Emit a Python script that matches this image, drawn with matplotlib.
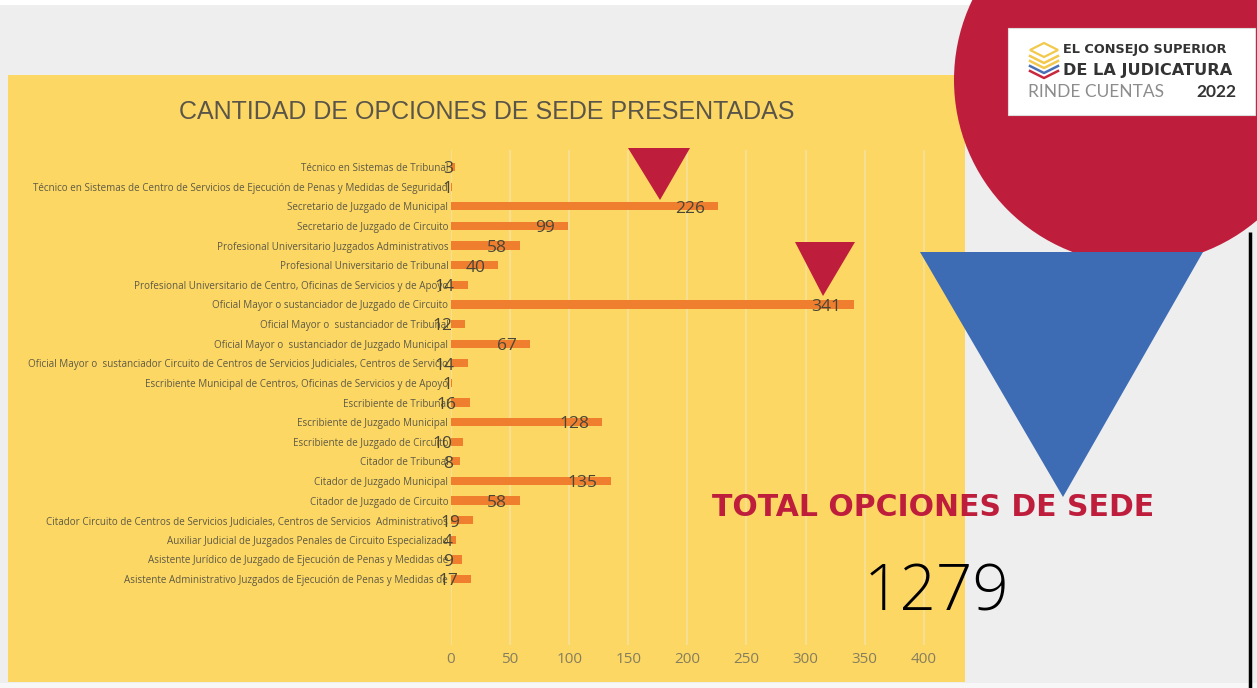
import matplotlib
matplotlib.use("Agg")
import matplotlib.pyplot as plt
import numpy as np
from matplotlib.patches import Rectangle, Circle, Polygon

# ---------------- data ----------------
categories = [
    "Técnico en Sistemas de Tribunal",
    "Técnico en Sistemas de Centro de Servicios de Ejecución de Penas y Medidas de Seguridad",
    "Secretario de Juzgado de Municipal",
    "Secretario de Juzgado de Circuito",
    "Profesional Universitario Juzgados Administrativos",
    "Profesional Universitario de Tribunal",
    "Profesional Universitario de Centro, Oficinas de Servicios y de Apoyo",
    "Oficial Mayor o sustanciador de Juzgado de Circuito",
    "Oficial Mayor o  sustanciador de Tribunal",
    "Oficial Mayor o  sustanciador de Juzgado Municipal",
    "Oficial Mayor o  sustanciador Circuito de Centros de Servicios Judiciales, Centros de Servicio",
    "Escribiente Municipal de Centros, Oficinas de Servicios y de Apoyo",
    "Escribiente de Tribunal",
    "Escribiente de Juzgado Municipal",
    "Escribiente de Juzgado de Circuito",
    "Citador de Tribunal",
    "Citador de Juzgado Municipal",
    "Citador de Juzgado de Circuito",
    "Citador Circuito de Centros de Servicios Judiciales, Centros de Servicios  Administrativos",
    "Auxiliar Judicial de Juzgados Penales de Circuito Especializado",
    "Asistente Jurídico de Juzgado de Ejecución de Penas y Medidas de",
    "Asistente Administrativo Juzgados de Ejecución de Penas y Medidas de",
]
values = [3, 1, 226, 99, 58, 40, 14, 341, 12, 67, 14, 1, 16, 128, 10, 8, 135, 58, 19, 4, 9, 17]
x_ticks = [0, 50, 100, 150, 200, 250, 300, 350, 400]
chart_title = "CANTIDAD DE OPCIONES DE SEDE PRESENTADAS"
total_label = "TOTAL OPCIONES DE SEDE"
total_value = "1279"

W, H = 1257, 688
fig = plt.figure(figsize=(W / 100, H / 100), dpi=100)
fig.patch.set_facecolor("#EEEEEE")

# ---------------- background layer (pixel coords) ----------------
bg = fig.add_axes([0, 0, 1, 1], zorder=0)
bg.set_xlim(0, W)
bg.set_ylim(H, 0)
bg.axis("off")
bg.add_patch(Rectangle((0, 0), W, 5, color="white", lw=0))
bg.add_patch(Rectangle((0, 683), W, 5, color="#F7F7F7", lw=0))
bg.add_patch(Rectangle((8, 75), 957, 607, color="#FDD764", lw=0))
bg.add_patch(Circle((1138, 80), 184, color="#BE1E3C", lw=0))

# ---------------- chart ----------------
n = len(categories)
ypos = np.arange(n)
ax = fig.add_axes([451 / W, 1 - 645 / H, (945 - 451) / W, (645 - 150) / H], zorder=1)
ax.patch.set_alpha(0)
ax.barh(ypos, values, height=0.42, color="#EF7F2F", zorder=3)
ax.set_xlim(0, 418)
ax.set_ylim(24.36, -0.87)
ax.set_yticks(ypos)
ax.set_yticklabels(categories, fontsize=7.1, color="#5E5A45", family=["Open Sans", "DejaVu Sans"])
ax.set_xticks(x_ticks)
ax.set_xticklabels([str(t) for t in x_ticks], fontsize=11, color="#857E5E",
                   family=["Open Sans", "DejaVu Sans"])
ax.tick_params(axis="both", length=0)
ax.tick_params(axis="y", pad=2)
ax.tick_params(axis="x", pad=5)
for s in ax.spines.values():
    s.set_visible(False)
ax.grid(axis="x", color="#F4E2A0", lw=1.1, zorder=0)
ax.set_axisbelow(True)

for y, v in zip(ypos, values):
    xr = max(v - 11, 1.5)
    ax.text(xr, y + 0.12, str(v), ha="right", va="center", fontsize=12.5,
            color="#4A4636", family=["Open Sans", "DejaVu Sans"], zorder=5)

# ---------------- foreground layer ----------------
fg = fig.add_axes([0, 0, 1, 1], zorder=2)
fg.set_xlim(0, W)
fg.set_ylim(H, 0)
fg.axis("off")
fg.patch.set_alpha(0)

fg.text(487, 112, chart_title, ha="center", va="center", fontsize=18,
        color="#5A5548", family=["Liberation Sans", "DejaVu Sans"])

red = "#BE1E3C"
fg.add_patch(Polygon([(628, 148), (690, 148), (660, 200)], closed=True, color=red, lw=0))
fg.add_patch(Polygon([(795, 242), (855, 242), (823, 296)], closed=True, color=red, lw=0))

# blue triangle
fg.add_patch(Polygon([(920, 252), (1203, 252), (1063, 497)], closed=True, color="#3D6CB4", lw=0))

# black line
fg.plot([1250, 1250], [232, 688], color="black", lw=2.5, solid_capstyle="butt")

# logo box
fg.add_patch(Rectangle((1008, 28), 247, 87, facecolor="white", edgecolor="#DDDDDD", lw=0.8))
# icon
fg.add_patch(Polygon([(1030, 50), (1044, 43), (1058, 50), (1044, 57)], closed=True,
                     facecolor="none", edgecolor="#F2C94C", lw=1.6))
for dy, col in [(6, "#F2C94C"), (11, "#F2C94C"), (16, "#4A6FB5"), (21, "#C8283E")]:
    fg.plot([1030, 1044, 1058], [50 + dy, 57 + dy, 50 + dy], color=col, lw=1.8)
fg.text(1063, 50, "EL CONSEJO SUPERIOR", ha="left", va="center", fontsize=9.3,
        fontweight="bold", color="#333333", family="DejaVu Sans")
fg.text(1063, 70, "DE LA JUDICATURA", ha="left", va="center", fontsize=11.6,
        fontweight="bold", color="#333333", family="DejaVu Sans")
fg.text(1028, 92, "RINDE CUENTAS", ha="left", va="center", fontsize=12.5,
        color="#8C8C8C", family=["Lato", "DejaVu Sans"], fontweight="normal")
fg.text(1236, 92, "2022", ha="right", va="center", fontsize=12.5,
        color="#333333", fontweight="bold", family=["Lato", "DejaVu Sans"])

# totals
fg.text(933, 507, total_label, ha="center", va="center", fontsize=21.5,
        fontweight="bold", color=red, family="DejaVu Sans")
fg.text(937, 594, total_value, ha="center", va="center", fontsize=46,
        color="black", fontweight=300, family=["Open Sans", "DejaVu Sans"])

fig.savefig("out.png", dpi=100, facecolor=fig.get_facecolor())
